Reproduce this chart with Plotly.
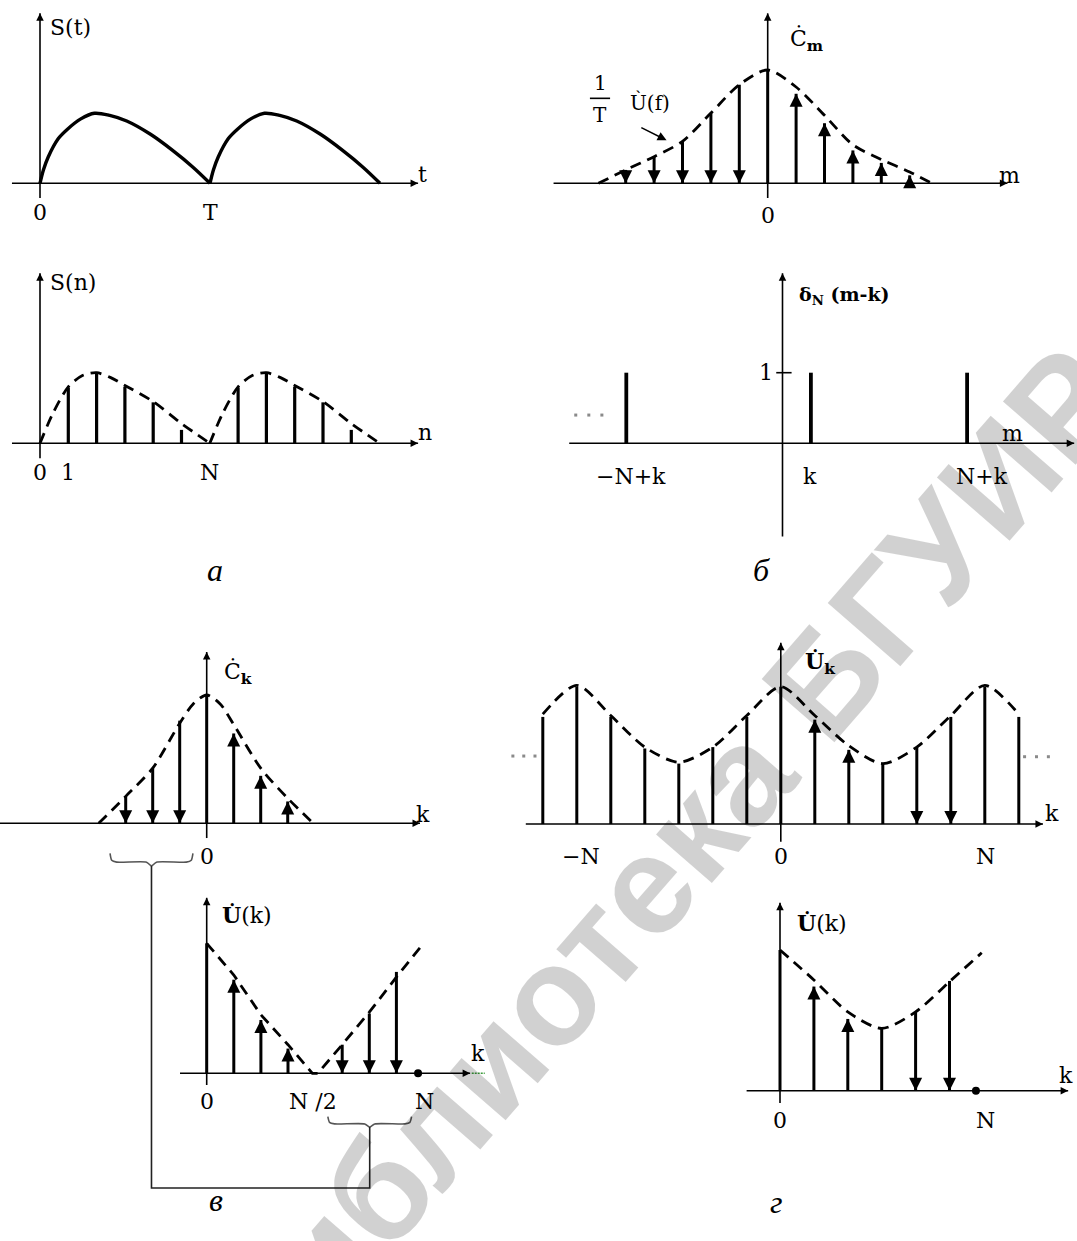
import plotly.graph_objects as go

W, H = 1077, 1241
SERIF = "DejaVu Serif, Liberation Serif, serif"
TIMES = "Liberation Serif, Times New Roman, serif"

# ------------------------------------------------------------------ data
# (а) top: continuous signal S(t), one period (T = 1)
st_t = [0, 0.02, 0.049, 0.108, 0.16, 0.24, 0.32, 0.41, 0.51, 0.65, 0.78, 0.90, 1.0]
st_s = [0, 0.19, 0.38, 0.64, 0.77, 0.92, 1.00, 0.97, 0.89, 0.70, 0.47, 0.23, 0]
st_periods = [0, 1]
st_ticks = ["0", "T"]
st_tick_pos = [0, 1]

# (а) bottom: samples S(n), N = 6
sn_env_n = [0, 0.45, 1.0, 1.5, 2.0, 2.5, 3.0, 4.0, 5.0, 6.0]
sn_env_h = [0, 0.42, 0.80, 0.96, 1.00, 0.93, 0.82, 0.59, 0.28, 0]
sn_N = 6
sn_n = [1, 2, 3, 4, 5, 7, 8, 9, 10, 11]
sn_h = [0.79, 1.00, 0.80, 0.58, 0.19, 0.79, 1.00, 0.80, 0.58, 0.19]
sn_ticks = ["0", "1", "N"]
sn_tick_pos = [0, 1, 6]

# (б) top: spectrum C_m
cm_env_m = [-5.96, -5, -4, -3, -2, -1, 0, 1, 2, 3, 4, 5, 5.78]
cm_env_h = [0, 0.118, 0.235, 0.37, 0.62, 0.87, 1.0, 0.85, 0.60, 0.34, 0.21, 0.10, 0]
cm_down_m = [-5, -4, -3, -2, -1]
cm_down_h = [0.118, 0.235, 0.37, 0.62, 0.87]
cm_zero_h = 1.0
cm_up_m = [1, 2, 3, 4, 5]
cm_up_h = [0.79, 0.53, 0.29, 0.18, 0.07]

# (б) bottom: delta_N(m-k)
dn_m = [-5.5, 1, 6.5]
dn_h = [1, 1, 1]
dn_labels = ["\u2212N+k", "k", "N+k"]
dn_label_pos = [-5.34, 0.98, 7.03]
dn_dots = [-7.28, -6.82, -6.36]

# (в) top: C_k
ck_env_k = [-4.0, -3, -2, -1, -0.5, 0, 0.5, 1, 2, 3, 3.95]
ck_env_h = [0, 0.21, 0.43, 0.78, 0.93, 1.0, 0.93, 0.77, 0.43, 0.195, 0]
ck_down_k = [-3, -2, -1]
ck_down_h = [0.21, 0.43, 0.80]
ck_up_k = [1, 2, 3]
ck_up_h = [0.70, 0.37, 0.17]

# (в) bottom: U(k), half-period shifted
uk_env_k = [0, 1, 2, 3, 3.9, 4.1, 5, 6, 7, 8]
uk_env_h = [1.0, 0.756, 0.45, 0.22, 0, 0, 0.22, 0.47, 0.74, 1.0]
uk_up_k = [1, 2, 3]
uk_up_h = [0.72, 0.41, 0.19]
uk_down_k = [5, 6, 7]
uk_down_h = [0.22, 0.46, 0.78]
uk_N = 7.8
uk_ticks = ["0", "N /2", "N"]
uk_tick_pos = [0, 3.92, 8.05]

# (г) top: periodic U_k, N = 6
pk_env_k = [-7, -6, -5, -4, -3, -2, -1, 0, 1, 2, 3, 4, 5, 6, 7]
pk_env_h = [0.80, 1.01, 0.79, 0.56, 0.45, 0.56, 0.79, 1.0, 0.79, 0.57, 0.44, 0.56, 0.79, 1.01, 0.80]
pk_plain_k = [-7, -6, -5, -4, -3, -2, -1, 0, 3, 6, 7]
pk_plain_h = [0.78, 1.0, 0.78, 0.55, 0.44, 0.56, 0.78, 1.0, 0.44, 1.0, 0.78]
pk_up_k = [1, 2]
pk_up_h = [0.76, 0.54]
pk_down_k = [4, 5]
pk_down_h = [0.56, 0.78]
pk_ticks = ["\u2212N", "0", "N"]
pk_tick_pos = [-5.88, 0, 6.03]
pk_dots_l = [-7.88, -7.56, -7.23]
pk_dots_r = [7.17, 7.52, 7.87]

# (г) bottom: U(k), one period
ud_env_k = [0, 1, 2, 3, 4, 5, 5.95]
ud_env_h = [1.0, 0.787, 0.56, 0.443, 0.56, 0.775, 0.98]
ud_plain_k = [0, 3]
ud_plain_h = [1.0, 0.443]
ud_up_k = [1, 2]
ud_up_h = [0.74, 0.51]
ud_down_k = [4, 5]
ud_down_h = [0.56, 0.78]
ud_N = 5.78
ud_ticks = ["0", "N"]
ud_tick_pos = [0, 6.05]

panel_letters = ["\u0430", "\u0431", "\u0432", "\u0433"]
watermark = "\u0411\u0438\u0431\u043b\u0438\u043e\u0442\u0435\u043a\u0430 \u0411\u0413\u0423\u0418\u0420"

# ------------------------------------------------------------------ layout of panels
# box (left, top, right, bottom) in px, origin px, px per unit
panels = {
    "A1": dict(i=1, box=(0, 0, 440, 240), xo=40, xu=170, yb=183.3, yu=70),
    "A2": dict(i=2, box=(0, 250, 440, 500), xo=40, xu=28.3, yb=443.3, yu=70.6),
    "B1": dict(i=3, box=(540, 0, 1077, 240), xo=767.7, xu=28.4, yb=183.3, yu=113.3),
    "B2": dict(i=4, box=(540, 250, 1077, 560), xo=782.5, xu=28.4, yb=443.3, yu=70.6),
    "C1": dict(i=5, box=(0, 640, 440, 880), xo=206.7, xu=27.0, yb=823.3, yu=128.3),
    "C2": dict(i=6, box=(140, 880, 500, 1130), xo=206.7, xu=27.1, yb=1073.3, yu=130),
    "D1": dict(i=7, box=(500, 635, 1077, 880), xo=780.8, xu=34.0, yb=824, yu=137.3),
    "D2": dict(i=8, box=(700, 880, 1077, 1130), xo=780, xu=33.9, yb=1090.7, yu=140.7),
}


def refs(p):
    i = panels[p]["i"]
    s = "" if i == 1 else str(i)
    return "x" + s, "y" + s


def to_paper(p, x, y):
    P = panels[p]
    px = P["xo"] + x * P["xu"]
    py = P["yb"] - y * P["yu"]
    return px / W, 1 - py / H


fig = go.Figure()
annotations = []
shapes = []

for p, P in panels.items():
    i = P["i"]
    l, t, r, b = P["box"]
    xa = "xaxis" if i == 1 else f"xaxis{i}"
    ya = "yaxis" if i == 1 else f"yaxis{i}"
    xr, yr = refs(p)
    fig.layout[xa] = dict(domain=[l / W, r / W],
                          range=[(l - P["xo"]) / P["xu"], (r - P["xo"]) / P["xu"]],
                          visible=False, anchor=yr, fixedrange=True)
    fig.layout[ya] = dict(domain=[1 - b / H, 1 - t / H],
                          range=[(P["yb"] - b) / P["yu"], (P["yb"] - t) / P["yu"]],
                          visible=False, anchor=xr, fixedrange=True)


def add(p, **kw):
    xr, yr = refs(p)
    kw.setdefault("showlegend", False)
    kw.setdefault("hoverinfo", "skip")
    kw.setdefault("cliponaxis", False)
    fig.add_trace(go.Scatter(xaxis=xr, yaxis=yr, **kw))


def axes(p, xl, xrt, yb, yt, w=1.6):
    add(p, x=[xl, xrt], y=[0, 0], mode="lines", line=dict(color="black", width=w))
    add(p, x=[0, 0], y=[yb, yt], mode="lines", line=dict(color="black", width=w))
    add(p, x=[xrt], y=[0], mode="markers",
        marker=dict(symbol="arrow-right", size=7.5, color="black", line=dict(width=0)))
    add(p, x=[0], y=[yt], mode="markers",
        marker=dict(symbol="arrow-up", size=7.5, color="black", line=dict(width=0)))


def stems(p, xs, hs, w=3):
    X, Y = [], []
    for x, h in zip(xs, hs):
        X += [x, x, None]
        Y += [0, h, None]
    add(p, x=X, y=Y, mode="lines", line=dict(color="black", width=w))


def arrows(p, xs, hs, up=True, w=3, size=13):
    stems(p, xs, hs, w)
    if up:
        add(p, x=xs, y=hs, mode="markers",
            marker=dict(symbol="arrow-up", size=size, color="black", line=dict(width=0)))
    else:
        add(p, x=xs, y=[0] * len(xs), mode="markers",
            marker=dict(symbol="arrow-down", size=size, color="black", line=dict(width=0)))


def envelope(p, xs, hs, shape="spline", w=2.8):
    add(p, x=xs, y=hs, mode="lines",
        line=dict(color="black", width=w, dash="11px,7px", shape=shape, smoothing=0.8))


def txt(p, x, y, s, size=22, xanchor="center", yanchor="middle", color="black", family=SERIF):
    xr, yr = refs(p)
    annotations.append(dict(x=x, y=y, xref=xr, yref=yr, text=s, showarrow=False,
                            xanchor=xanchor, yanchor=yanchor,
                            font=dict(family=family, size=size, color=color)))


def brace(p, xa, xb, y0, d, color="#555555"):
    w = xb - xa
    xm = (xa + xb) / 2
    xs = [xa, xa + 0.02 * w, xa + 0.08 * w, xm - 0.06 * w, xm, xm + 0.06 * w,
          xb - 0.08 * w, xb - 0.02 * w, xb]
    ys = [y0, y0 - 0.55 * d, y0 - 0.7 * d, y0 - 0.7 * d, y0 - d, y0 - 0.7 * d,
          y0 - 0.7 * d, y0 - 0.55 * d, y0]
    add(p, x=xs, y=ys, mode="lines", line=dict(color=color, width=1.6, shape="spline", smoothing=0.6))
    return xm, y0 - d


# ------------------------------------------------------------------ (а) S(t)
axes("A1", -0.165, 2.224, -0.21, 2.43)
for k in st_periods:
    add("A1", x=[t + k for t in st_t], y=st_s, mode="lines",
        line=dict(color="black", width=3.4, shape="spline", smoothing=0.9))
txt("A1", 0.047, 2.22, "S(t)", xanchor="left")
txt("A1", 2.25, 0.12, "t")
for s, x in zip(st_ticks, st_tick_pos):
    txt("A1", x, -0.42, s)

# ------------------------------------------------------------------ (а) S(n)
axes("A2", -0.99, 13.36, -0.21, 2.41)
for k in [0, sn_N]:
    envelope("A2", [n + k for n in sn_env_n], sn_env_h)
stems("A2", sn_n, sn_h, w=3.2)
txt("A2", 0.28, 2.28, "S(n)", xanchor="left")
txt("A2", 13.6, 0.146, "n")
for s, x in zip(sn_ticks, sn_tick_pos):
    txt("A2", x, -0.42, s)

# ------------------------------------------------------------------ (б) C_m
axes("B1", -7.54, 8.44, -0.13, 1.5)
envelope("B1", cm_env_m, cm_env_h)
arrows("B1", cm_down_m, cm_down_h, up=False)
stems("B1", [0], [cm_zero_h])
arrows("B1", cm_up_m, cm_up_h, up=True)
txt("B1", 1.35, 1.265, "\u010a<sub><b>m</b></sub>")
txt("B1", 8.5, 0.073, "m")
txt("B1", 0, -0.28, "0")
txt("B1", -5.9, 0.884, "1", size=20)
txt("B1", -5.9, 0.60, "T", size=20)
add("B1", x=[-6.26, -5.55], y=[0.75, 0.75], mode="lines", line=dict(color="black", width=1.6))
txt("B1", -4.14, 0.71, "\u00d9(f)", size=20)
xr3, yr3 = refs("B1")
annotations.append(dict(x=-3.56, y=0.38, ax=-4.52, ay=0.50, xref=xr3, yref=yr3,
                        axref=xr3, ayref=yr3, showarrow=True, arrowhead=2,
                        arrowwidth=1.5, arrowsize=1.2, arrowcolor="black", text=" ",
                        font=dict(size=2)))

# ------------------------------------------------------------------ (б) delta_N
axes("B2", -7.51, 10.27, -1.32, 2.41)
stems("B2", dn_m, dn_h, w=3.8)
add("B2", x=[-0.22, 0.32], y=[1, 1], mode="lines", line=dict(color="black", width=1.6))
txt("B2", -0.58, 1.0, "1")
txt("B2", 0.5, 2.1, "<b>\u03b4<sub>N</sub> (m-k)</b>", size=19, xanchor="left")
for s, x in zip(dn_labels, dn_label_pos):
    txt("B2", x, -0.47, s)
txt("B2", 8.1, 0.14, "m")
add("B2", x=dn_dots, y=[0.40] * 3, mode="markers",
    marker=dict(symbol="square", size=3, color="#8a8a8a", line=dict(width=0)))

# ------------------------------------------------------------------ (в) C_k
axes("C1", -7.66, 7.9, -0.115, 1.335)
envelope("C1", ck_env_k, ck_env_h)
arrows("C1", ck_down_k, ck_down_h, up=False)
stems("C1", [0], [1.0])
arrows("C1", ck_up_k, ck_up_h, up=True)
txt("C1", 1.16, 1.17, "\u010a<sub><b>k</b></sub>")
txt("C1", 8.0, 0.066, "k")
txt("C1", 0.01, -0.26, "0")
b1x, b1y = brace("C1", -3.58, -0.51, -0.235, 0.097)

# ------------------------------------------------------------------ (в) U(k)
axes("C2", -0.985, 9.72, -0.09, 1.35)
envelope("C2", uk_env_k, uk_env_h, shape="linear")
stems("C2", [0], [1.0])
arrows("C2", uk_up_k, uk_up_h, up=True)
arrows("C2", uk_down_k, uk_down_h, up=False)
add("C2", x=[uk_N], y=[0], mode="markers", marker=dict(size=8, color="black"))
txt("C2", 1.5, 1.22, "<b>U\u0307</b>(k)")
txt("C2", 10.0, 0.156, "k")
add("C2", x=[9.78, 10.26], y=[0.0, 0.0], mode="lines",
    line=dict(color="#3a9a3a", width=1.6, dash="2px,1px"))
for s, x in zip(uk_ticks, uk_tick_pos):
    txt("C2", x, -0.22, s)
b2x, b2y = brace("C2", 4.47, 7.56, -0.334, 0.079)

# connector between the two braces
x1p, y1p = to_paper("C1", b1x, b1y)
x2p, y2p = to_paper("C2", b2x, b2y)
ybot = 1 - 1188 / H
shapes.append(dict(type="path", xref="paper", yref="paper",
                   path=f"M{x1p},{y1p} L{x1p},{ybot} L{x2p},{ybot} L{x2p},{y2p}",
                   line=dict(color="#222222", width=1.6)))

# ------------------------------------------------------------------ (г) periodic U_k
axes("D1", -7.5, 7.71, -0.13, 1.32)
envelope("D1", pk_env_k, pk_env_h)
stems("D1", pk_plain_k, pk_plain_h)
arrows("D1", pk_up_k, pk_up_h, up=True)
arrows("D1", pk_down_k, pk_down_h, up=False)
txt("D1", 1.15, 1.175, "<b>U\u0307<sub>k</sub></b>")
txt("D1", 7.98, 0.08, "k")
for s, x in zip(pk_ticks, pk_tick_pos):
    txt("D1", x, -0.24, s)
add("D1", x=pk_dots_l, y=[0.495] * 3, mode="markers",
    marker=dict(symbol="square", size=3, color="#8a8a8a", line=dict(width=0)))
add("D1", x=pk_dots_r, y=[0.49] * 3, mode="markers",
    marker=dict(symbol="square", size=3, color="#8a8a8a", line=dict(width=0)))

# ------------------------------------------------------------------ (г) U(k)
axes("D2", -0.985, 8.5, -0.087, 1.335)
envelope("D2", ud_env_k, ud_env_h)
stems("D2", ud_plain_k, ud_plain_h)
arrows("D2", ud_up_k, ud_up_h, up=True)
arrows("D2", ud_down_k, ud_down_h, up=False)
add("D2", x=[ud_N], y=[0], mode="markers", marker=dict(size=8, color="black"))
txt("D2", 1.25, 1.19, "<b>U\u0307</b>(k)")
txt("D2", 8.45, 0.11, "k")
for s, x in zip(ud_ticks, ud_tick_pos):
    txt("D2", x, -0.215, s)

# ------------------------------------------------------------------ panel letters
for s, (px, py) in zip(panel_letters, [(205, 570), (772, 570), (207, 1220), (784, 1222)]):
    annotations.append(dict(x=px / W, y=1 - py / H, xref="paper", yref="paper", text=f"<i>{s}</i>",
                            showarrow=False, font=dict(family=TIMES, size=32, color="black")))

# watermark (translucent black so the drawing's black strokes stay black beneath it)
annotations.append(dict(x=660 / W, y=1 - 868 / H, xref="paper", yref="paper",
                        xanchor="center", yanchor="middle",
                        text=f"<b>{watermark}</b>",
                        showarrow=False, textangle=-49,
                        font=dict(family="Liberation Sans, Arial, sans-serif", size=140,
                                  color="rgba(0,0,0,0.18)")))

fig.update_layout(width=W, height=H, margin=dict(l=0, r=0, t=0, b=0),
                  paper_bgcolor="white", plot_bgcolor="white",
                  annotations=annotations, shapes=shapes, showlegend=False)

fig.write_html("out.html")
